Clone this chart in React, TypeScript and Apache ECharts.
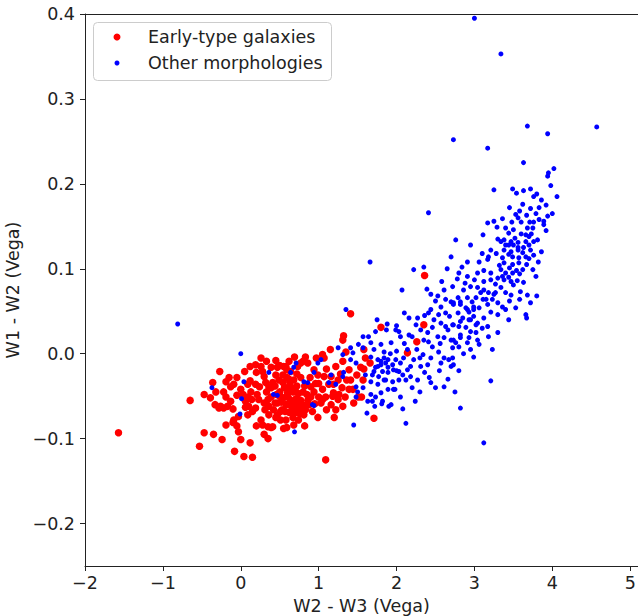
import React, { useEffect, useRef } from "react";
import * as echarts from "echarts";

const seriesNames = ["Early-type galaxies", "Other morphologies"];
const xTicks = [-2, -1, 0, 1, 2, 3, 4, 5];
const yTicks = [-0.2, -0.1, 0.0, 0.1, 0.2, 0.3, 0.4];

const earlyType: number[][] = [
  [-1.57, -0.093], [-0.65, -0.055], [-0.47, -0.048], [-0.27, -0.021], [-0.32, -0.045], [-0.28, -0.064],
  [-0.26, -0.062], [-0.22, -0.064], [-0.17, -0.062], [-0.19, -0.051], [-0.09, -0.078], [-0.19, -0.084],
  [0.0, -0.042], [0.05, -0.021], [0.12, -0.032], [0.19, -0.013], [0.26, -0.005], [0.26, -0.015],
  [0.19, -0.036], [0.24, -0.039], [0.03, -0.048], [0.09, -0.051], [0.1, -0.062], [0.15, -0.068],
  [0.09, -0.072], [-0.03, -0.074], [-0.03, -0.092], [0.0, -0.101], [-0.1, -0.081], [-0.47, -0.093],
  [-0.35, -0.095], [-0.24, -0.101], [-0.53, -0.109], [-0.08, -0.115], [0.04, -0.121], [0.15, -0.122],
  [0.26, -0.078], [0.28, -0.084], [0.35, -0.086], [0.39, -0.087], [0.35, -0.1], [0.3, -0.058],
  [0.35, -0.054], [0.39, -0.051], [0.36, -0.062], [0.42, -0.066], [0.47, -0.072], [0.51, -0.078],
  [0.39, -0.016], [0.47, -0.016], [0.55, -0.015], [0.36, -0.039], [0.41, -0.034],
  [1.32, 0.021], [1.31, 0.016], [1.05, -0.001], [1.07, -0.005], [0.83, -0.004], [0.8, -0.009],
  [0.86, -0.011], [0.58, -0.015], [0.73, -0.015], [0.94, -0.019], [0.99, -0.025], [1.07, -0.027],
  [1.16, -0.027], [1.25, -0.031], [1.31, -0.009], [1.39, -0.019], [1.41, -0.031], [1.39, -0.042],
  [1.51, -0.051], [1.54, -0.016], [0.9, -0.039], [0.94, -0.045], [0.9, -0.051], [1.05, -0.042],
  [1.09, -0.051], [1.05, -0.054], [1.19, -0.046], [1.26, -0.048], [1.25, -0.054], [1.22, -0.066],
  [1.31, -0.062], [0.99, -0.075], [0.83, -0.066], [0.68, -0.084], [0.41, -0.086], [1.35, 0.002],
  [0.54, -0.025], [0.59, -0.028], [0.64, -0.021], [0.63, -0.034], [0.68, -0.031], [0.72, -0.038],
  [0.56, -0.04], [0.5, -0.045], [0.6, -0.046], [0.67, -0.045], [0.74, -0.047], [0.55, -0.052],
  [0.63, -0.054], [0.71, -0.053], [0.77, -0.055], [0.47, -0.058], [0.58, -0.06], [0.65, -0.062],
  [0.73, -0.06], [0.81, -0.061], [0.53, -0.066], [0.62, -0.069], [0.71, -0.069], [0.77, -0.066],
  [0.46, -0.048], [0.44, -0.038], [0.49, -0.031], [0.77, -0.028], [0.82, -0.038], [0.85, -0.048],
  [0.67, -0.075], [0.58, -0.078], [0.74, -0.078], [0.72, -0.024], [0.59, -0.019],
  [1.41, 0.047], [1.8, 0.031], [2.36, 0.092], [2.35, 0.034], [2.26, 0.014], [2.14, 0.001],
  [1.58, 0.005], [1.6, -0.005], [1.66, -0.011], [1.58, -0.018], [1.57, -0.031], [1.55, -0.051],
  [1.71, -0.076], [1.09, -0.125], [-0.36, -0.034], [-0.19, -0.033], [-0.13, -0.039], [-0.05, -0.028],
  [0.09, -0.036], [0.14, -0.054], [0.21, -0.048], [0.3, -0.027], [0.33, -0.009], [1.03, -0.058],
  [1.13, -0.036], [1.22, -0.015], [1.44, -0.042], [1.34, -0.051], [1.49, -0.025], [1.16, -0.06],
  [0.92, -0.068], [0.28, -0.021], [0.32, -0.034], [0.45, -0.025], [0.5, -0.014], [0.62, -0.009],
  [0.69, -0.004], [0.77, -0.011], [0.89, -0.028], [0.96, -0.035], [1.0, -0.051], [0.95, -0.059],
  [0.86, -0.055], [0.81, -0.072], [0.59, -0.087], [0.51, -0.068], [0.45, -0.075], [0.36, -0.072],
  [0.31, -0.066], [0.23, -0.054], [0.19, -0.064], [0.13, -0.045], [0.06, -0.056], [-0.05, -0.049],
  [-0.13, -0.056], [-0.33, -0.06], [-0.39, -0.052], [-0.15, -0.028], [-0.09, -0.036], [0.64, -0.039],
  [0.54, -0.034], [0.73, -0.066], [1.1, -0.066], [1.19, -0.036], [1.3, -0.04], [1.36, -0.031],
  [0.6, -0.05], [0.66, -0.057], [0.7, -0.041], [0.52, -0.057], [0.57, -0.068], [0.68, -0.068],
  [0.76, -0.071], [0.8, -0.045], [0.88, -0.06], [0.62, -0.03], [0.44, -0.058], [0.39, -0.04],
  [0.33, -0.045], [0.2, -0.022], [0.12, -0.015], [0.06, -0.063], [-0.1, -0.065], [-0.22, -0.045],
  [-0.05, -0.085], [0.2, -0.085], [0.3, -0.095], [0.12, -0.105], [1.0, -0.035], [1.1, -0.018],
  [1.18, -0.05], [1.28, -0.024], [1.45, -0.058], [0.55, -0.088], [0.82, -0.085], [0.45, -0.008],
  [0.97, -0.005], [1.15, 0.005], [1.2, -0.075], [0.7, -0.06], [0.5, -0.05], [0.6, -0.04]
];

const otherMorph: number[][] = [
  [1.64, 0.02], [1.67, 0.013], [1.51, 0.011], [1.57, 0.007], [1.41, 0.007], [1.25, 0.007],
  [1.31, -0.001], [1.44, 0.001], [1.41, -0.007], [1.48, -0.011], [1.67, -0.004], [1.8, -0.009],
  [1.86, -0.011], [1.76, -0.015], [1.71, -0.021], [1.89, -0.022], [1.84, -0.031], [1.32, -0.022],
  [1.31, -0.027], [1.16, -0.025], [1.22, -0.036], [1.13, -0.034], [1.48, -0.039], [1.5, -0.045],
  [1.48, -0.051], [1.67, -0.048], [1.69, -0.056], [1.63, -0.056], [0.99, -0.011], [0.94, -0.022],
  [0.68, -0.016], [0.64, -0.022], [0.81, -0.033], [0.42, -0.048], [0.86, -0.034], [0.92, -0.06],
  [1.45, -0.084], [0.69, -0.092], [1.82, -0.056], [1.9, -0.062],
  [0.0, 0.0], [-0.37, -0.04], [0.04, -0.033], [0.01, -0.053], [0.36, -0.022], [0.71, -0.011],
  [0.47, -0.049], [-0.01, -0.071], [-0.81, 0.035], [0.94, -0.061], [2.12, -0.082], [2.82, -0.064],
  [3.12, -0.105], [1.72, -0.062], [1.81, -0.059], [1.93, -0.06], [2.08, -0.065],
  [1.57, 0.02], [1.73, 0.026], [1.71, 0.005], [1.8, 0.011], [1.84, 0.002], [1.93, 0.013],
  [1.99, 0.028], [2.03, 0.026], [2.05, 0.02], [2.16, 0.022], [2.25, 0.034], [2.31, 0.028],
  [2.41, 0.048], [2.44, 0.052], [2.54, 0.046], [2.63, 0.048], [2.7, 0.061], [2.73, 0.058],
  [2.82, 0.061], [2.91, 0.052], [2.99, 0.055], [2.95, 0.04], [3.02, 0.034], [2.82, 0.038],
  [2.73, 0.034], [2.63, 0.032], [2.57, 0.036], [2.46, 0.031], [2.4, 0.025], [2.35, 0.016],
  [2.41, 0.014], [2.46, 0.008], [2.53, 0.02], [2.61, 0.019], [2.7, 0.016], [2.76, 0.013],
  [2.82, 0.019], [2.91, 0.013], [2.54, 0.002], [2.61, -0.005], [2.67, -0.007], [2.72, -0.005],
  [2.57, -0.011], [2.44, -0.005], [2.34, -0.001], [2.4, -0.013], [2.31, -0.015], [2.22, -0.007],
  [2.18, -0.015], [2.09, -0.005], [2.05, -0.011], [1.99, -0.007], [1.95, -0.013], [1.89, -0.007],
  [1.84, -0.005], [1.8, -0.013], [1.76, -0.007], [1.73, -0.016], [1.82, -0.021], [1.89, -0.016],
  [1.96, -0.019], [2.03, -0.021], [2.08, -0.025], [2.14, -0.019], [2.18, -0.027], [2.27, -0.031],
  [2.12, -0.031], [2.03, -0.031], [1.95, -0.033], [1.86, -0.031], [1.77, -0.027], [1.69, -0.025],
  [1.67, -0.033], [1.76, -0.036], [1.89, -0.042], [1.8, -0.046], [1.73, -0.051], [1.96, -0.042],
  [2.05, -0.051], [2.44, -0.034], [2.5, -0.04], [2.61, -0.039], [2.7, -0.015],
  [3.34, 0.132], [3.4, 0.128], [3.47, 0.132], [3.56, 0.131], [3.66, 0.132], [3.7, 0.128],
  [3.76, 0.132], [3.38, 0.122], [3.47, 0.12], [3.56, 0.122], [3.62, 0.119], [3.72, 0.122],
  [3.76, 0.116], [3.21, 0.122], [3.18, 0.114], [3.36, 0.113], [3.49, 0.114], [3.57, 0.113],
  [3.66, 0.114], [3.38, 0.107], [3.49, 0.105], [3.57, 0.107], [3.62, 0.099], [3.75, 0.099],
  [2.91, 0.108], [3.06, 0.108], [3.17, 0.111], [2.7, 0.114], [3.34, 0.099], [3.4, 0.095],
  [3.49, 0.095], [2.8, 0.095], [2.91, 0.091], [3.04, 0.095], [3.12, 0.085], [3.21, 0.087],
  [3.3, 0.089], [3.38, 0.087], [3.47, 0.085], [3.5, 0.081], [3.21, 0.095], [2.72, 0.079],
  [2.86, 0.075], [2.95, 0.079], [3.04, 0.078], [3.12, 0.075], [3.18, 0.072], [3.27, 0.072],
  [3.34, 0.078], [3.4, 0.072], [3.47, 0.069], [3.59, 0.073], [3.68, 0.069], [3.72, 0.06],
  [2.79, 0.066], [2.91, 0.066], [3.02, 0.066], [3.11, 0.064], [3.23, 0.064], [3.3, 0.06],
  [3.36, 0.055], [3.4, 0.052], [2.73, 0.06], [2.82, 0.058], [2.89, 0.054], [2.93, 0.049],
  [2.99, 0.052], [3.06, 0.054], [3.17, 0.058], [3.21, 0.049], [3.3, 0.046], [3.44, 0.04],
  [3.66, 0.046], [2.79, 0.048], [2.85, 0.042], [2.93, 0.04], [2.99, 0.044], [3.04, 0.036],
  [3.12, 0.042], [3.17, 0.032], [2.72, 0.034], [2.8, 0.032], [2.89, 0.031], [2.95, 0.026],
  [3.02, 0.025], [2.82, 0.022], [2.93, 0.019], [3.04, 0.016], [2.73, 0.016], [3.18, 0.02],
  [2.72, 0.007], [2.8, 0.008], [3.23, 0.005], [2.99, -0.004], [2.73, -0.013], [3.21, -0.032],
  [3.68, 0.268], [3.94, 0.259], [4.57, 0.267], [3.17, 0.242], [2.73, 0.252], [3.0, 0.395],
  [3.34, 0.353], [3.63, 0.225], [4.02, 0.218], [3.95, 0.213], [3.94, 0.209], [3.25, 0.193],
  [3.49, 0.194], [3.54, 0.189], [3.63, 0.192], [3.72, 0.194], [3.8, 0.188], [3.76, 0.185],
  [3.86, 0.181], [4.06, 0.185], [3.58, 0.168], [3.72, 0.171], [3.79, 0.165], [3.53, 0.164],
  [3.56, 0.16], [3.36, 0.159], [3.25, 0.156], [3.17, 0.154], [3.29, 0.149], [3.94, 0.162],
  [3.89, 0.156], [3.89, 0.152], [3.92, 0.145], [3.71, 0.155], [3.76, 0.155], [3.68, 0.148],
  [3.75, 0.148], [3.5, 0.146], [3.44, 0.142], [3.11, 0.14], [3.66, 0.14], [3.7, 0.138],
  [3.81, 0.134], [3.38, 0.134], [3.44, 0.128], [3.5, 0.128], [3.56, 0.125], [3.63, 0.125],
  [2.41, 0.166], [1.66, 0.108], [2.22, 0.099], [2.35, 0.102], [2.39, 0.076], [2.07, 0.075],
  [3.98, 0.198], [2.76, 0.134], [2.95, 0.128], [1.35, 0.052], [1.87, 0.028], [2.0, 0.033],
  [2.16, 0.042], [2.27, 0.042], [2.53, 0.068], [2.61, 0.075], [2.63, 0.064], [2.57, 0.055],
  [3.8, 0.068], [3.79, 0.091], [3.63, 0.084], [3.58, 0.064], [3.53, 0.054], [3.67, 0.042],
  [3.06, 0.011], [1.03, -0.007],
  [3.28, 0.118], [3.44, 0.117], [3.52, 0.136], [3.6, 0.141], [3.73, 0.141], [3.32, 0.104],
  [3.45, 0.101], [3.54, 0.098], [3.67, 0.105], [3.7, 0.112], [3.27, 0.082], [3.36, 0.091],
  [3.44, 0.09], [3.55, 0.086], [3.58, 0.094], [3.12, 0.098], [3.0, 0.087], [3.08, 0.072],
  [3.25, 0.07], [3.15, 0.064], [2.97, 0.061], [2.88, 0.083], [2.78, 0.088], [2.84, 0.102],
  [3.1, 0.118], [3.62, 0.176], [3.67, 0.163], [3.83, 0.158], [3.83, 0.172], [3.45, 0.172],
  [3.4, 0.148], [3.3, 0.135], [3.86, 0.12], [3.82, 0.108], [3.92, 0.175], [4.0, 0.165],
  [3.6, 0.155], [3.48, 0.155],
  [2.26, 0.005], [2.3, -0.005], [2.14, 0.005], [2.0, 0.003], [1.92, 0.0], [2.1, 0.012],
  [2.2, 0.02], [2.48, 0.04], [2.36, 0.045], [2.56, 0.012], [2.66, 0.028], [2.68, 0.044],
  [2.5, 0.062], [2.44, 0.07], [2.65, 0.1], [2.58, 0.085], [1.98, -0.042], [2.2, -0.04],
  [2.3, -0.045], [2.0, -0.02], [2.36, -0.022], [2.42, -0.028], [2.55, -0.02], [2.66, -0.03],
  [2.8, -0.02], [2.86, 0.0], [2.95, 0.005], [1.6, -0.025], [1.57, -0.04], [1.88, 0.035],
  [1.75, 0.04], [2.1, 0.048], [1.62, -0.07], [2.24, -0.056], [3.1, 0.03], [3.3, 0.025],
  [3.45, 0.062], [2.75, -0.045]
];

const fmt = (v: number, d: number) => (v < 0 ? "\u2212" : "") + Math.abs(v).toFixed(d);

export default function App() {
  const ref = useRef<HTMLDivElement>(null);
  useEffect(() => {
    document.body.style.margin = "0";
    const chart = echarts.init(ref.current!, null, { renderer: "svg" });
    const font = "DejaVu Sans";
    const axisColor = "#222";
    const fs = 17.5;
    chart.setOption({
      animation: false,
      backgroundColor: "#fff",
      textStyle: { fontFamily: font },
      grid: { left: 85, top: 14, right: 0, bottom: 50, containLabel: false, outerBoundsMode: "none" },
      graphic: [
        {
          type: "rect",
          shape: { x: 93.5, y: 22.5, width: 238, height: 58, r: 4 },
          style: { fill: "#fff", stroke: "#cccccc", lineWidth: 1 },
          z: 10,
        },
        { type: "circle", shape: { cx: 117, cy: 37, r: 3.5 }, style: { fill: "#ff0000" }, z: 11 },
        { type: "circle", shape: { cx: 117, cy: 63, r: 2.5 }, style: { fill: "#0000ff" }, z: 11 },
        {
          type: "text",
          x: 148,
          y: 37,
          style: { text: seriesNames[0], font: `${fs}px "${font}"`, fill: axisColor, verticalAlign: "middle" },
          z: 11,
        },
        {
          type: "text",
          x: 148,
          y: 63,
          style: { text: seriesNames[1], font: `${fs}px "${font}"`, fill: axisColor, verticalAlign: "middle" },
          z: 11,
        },
      ],
      xAxis: [
        {
          type: "value",
          min: -2,
          max: 5.1,
          name: "W2 - W3 (Vega)",
          nameLocation: "middle",
          nameGap: 30,
          nameTextStyle: { fontFamily: font, fontSize: fs, color: axisColor },
          axisLine: { show: true, onZero: false, lineStyle: { color: axisColor, width: 1 } },
          axisTick: { show: true, length: 5, lineStyle: { color: axisColor }, customValues: xTicks },
          axisLabel: {
            fontFamily: font,
            fontSize: fs,
            color: axisColor,
            margin: 8,
            customValues: xTicks,
            formatter: (v: number) => fmt(v, 0),
          },
          splitLine: { show: false },
        },
        {
          type: "value",
          position: "top",
          min: -2,
          max: 5.1,
          axisLine: { show: true, onZero: false, lineStyle: { color: axisColor, width: 1 } },
          axisTick: { show: false },
          axisLabel: { show: false },
          splitLine: { show: false },
        },
      ],
      yAxis: {
        type: "value",
        min: -0.25,
        max: 0.4,
        name: "W1 - W2 (Vega)",
        nameLocation: "middle",
        nameGap: 58,
        nameTextStyle: { fontFamily: font, fontSize: fs, color: axisColor },
        axisLine: { show: true, onZero: false, lineStyle: { color: axisColor, width: 1 } },
        axisTick: { show: true, length: 5, lineStyle: { color: axisColor }, customValues: yTicks },
        axisLabel: {
          fontFamily: font,
          fontSize: fs,
          color: axisColor,
          margin: 10,
          customValues: yTicks,
          formatter: (v: number) => fmt(v, 1),
        },
        splitLine: { show: false },
      },
      series: [
        {
          name: seriesNames[0],
          type: "scatter",
          xAxisIndex: 0,
          data: earlyType,
          symbolSize: 7.5,
          itemStyle: { color: "#ff0000", opacity: 1 },
        },
        {
          name: seriesNames[1],
          type: "scatter",
          xAxisIndex: 0,
          data: otherMorph,
          symbolSize: 5,
          itemStyle: { color: "#0000ff", opacity: 1 },
        },
      ],
    });
    return () => chart.dispose();
  }, []);
  return <div ref={ref} style={{ width: 638, height: 616 }} />;
}
